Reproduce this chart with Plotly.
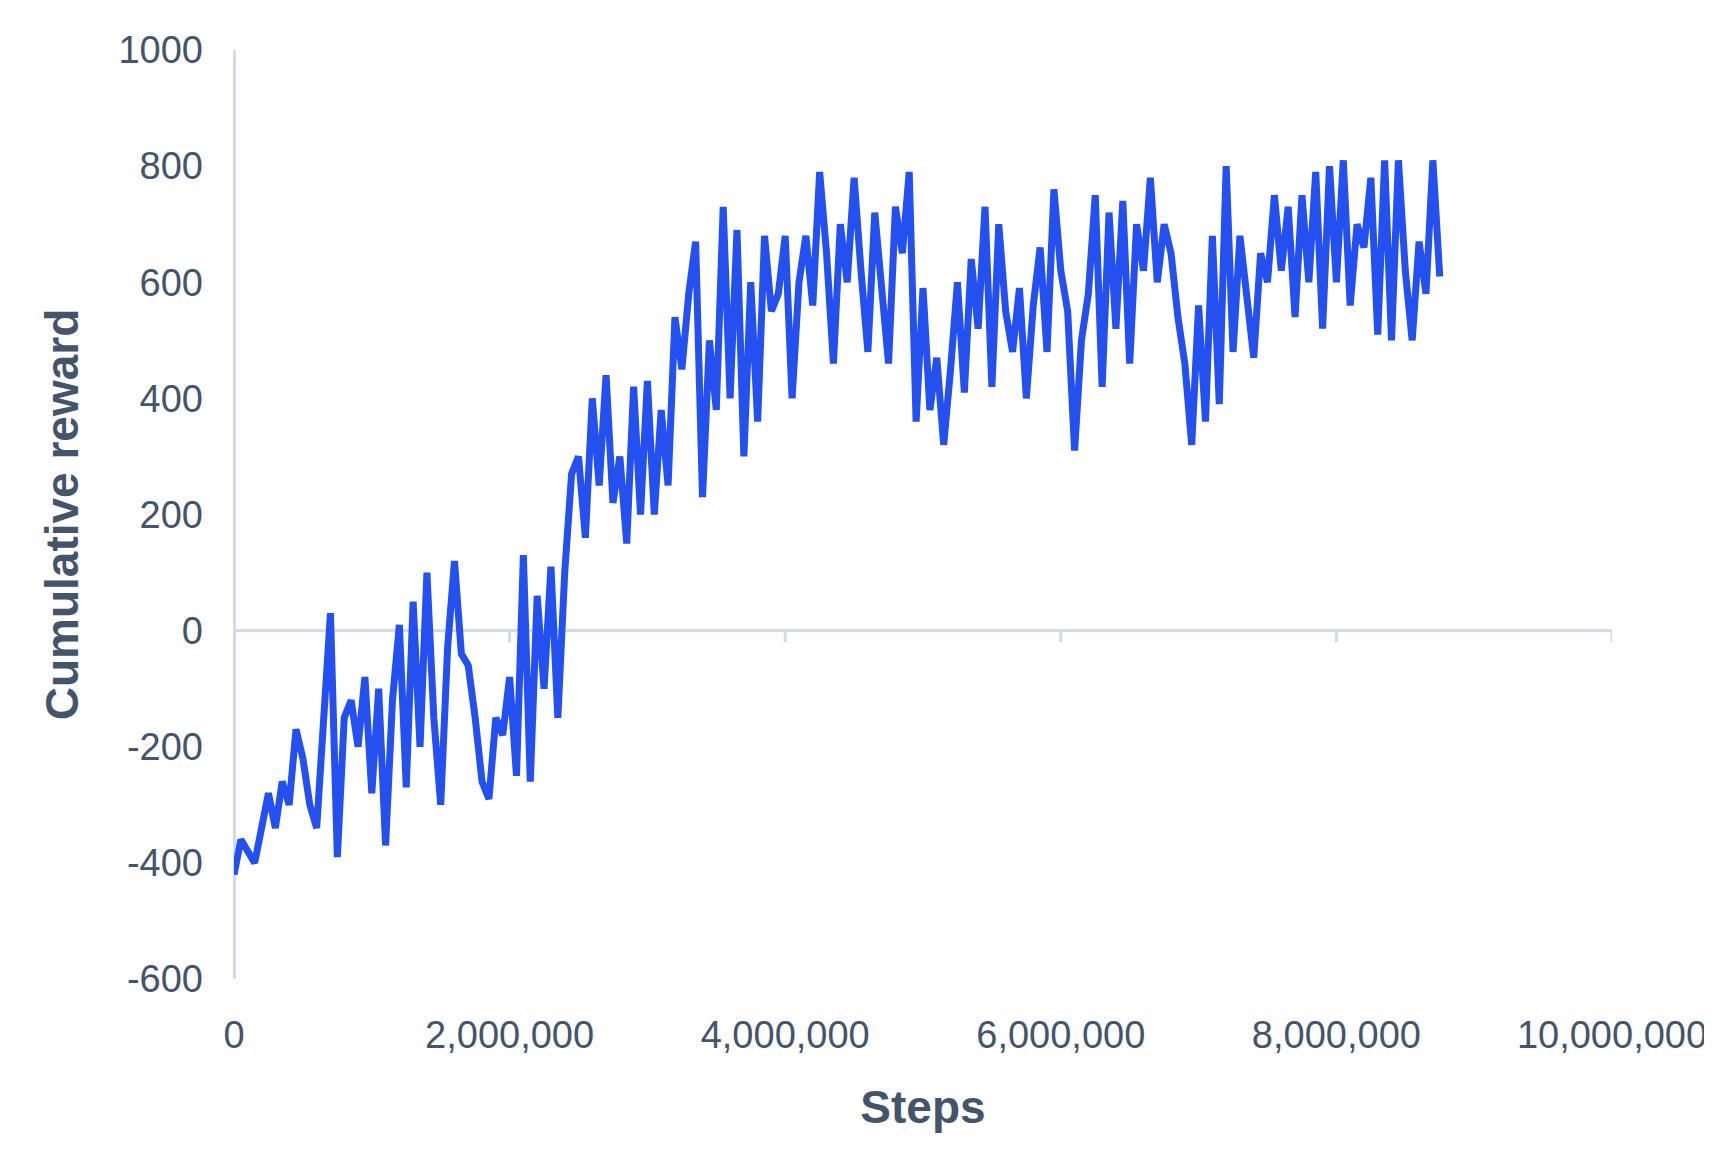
import plotly.graph_objects as go

# steps every 50,000 from 0 to 8,750,000
step_size = 50000
reward = [
    -420, -360, -380, -400, -340, -280, -340, -260, -300, -170, -220, -300, -340, -130, 30, -390, -150, -120, -200, -80,
    -280, -100, -370, -120, 10, -270, 50, -200, 100, -150, -300, -30, 120, -40, -60, -150, -260, -290, -150, -180,
    -80, -250, 130, -260, 60, -100, 110, -150, 100, 270, 300, 160, 400, 250, 440, 220, 300, 150, 420, 200,
    430, 200, 380, 250, 540, 450, 580, 670, 230, 500, 380, 730, 400, 690, 300, 600, 360, 680, 550, 580,
    680, 400, 600, 680, 560, 790, 650, 460, 700, 600, 780, 620, 480, 720, 600, 460, 730, 650, 790, 360,
    590, 380, 470, 320, 450, 600, 410, 640, 520, 730, 420, 700, 550, 480, 590, 400, 560, 660, 480, 760,
    620, 550, 310, 500, 580, 750, 420, 720, 520, 740, 460, 700, 620, 780, 600, 700, 650, 540, 460, 320,
    560, 360, 680, 390, 800, 480, 680, 560, 470, 650, 600, 750, 620, 730, 540, 750, 600, 790, 520, 800,
    600, 810, 560, 700, 660, 780, 510, 810, 500, 810, 620, 500, 670, 580, 810, 610,
]
steps = [i * step_size for i in range(len(reward))]

x_ticks = [0, 2000000, 4000000, 6000000, 8000000, 10000000]
x_labels = ["0", "2,000,000", "4,000,000", "6,000,000", "8,000,000", "10,000,000"]
y_ticks = [-600, -400, -200, 0, 200, 400, 600, 800, 1000]
y_labels = ["-600", "-400", "-200", "0", "200", "400", "600", "800", "1000"]

txt = "#44546a"
axcol = "#d3dbe6"
font = "Liberation Sans Narrow, Liberation Sans, sans-serif"

fig = go.Figure()
fig.add_trace(go.Scatter(x=steps, y=reward, mode="lines",
                         line=dict(color="#2450f0", width=7)))

# little tick marks hanging below the zero line
for t in x_ticks[1:]:
    fig.add_shape(type="line", x0=t, x1=t, y0=0, y1=-20,
                  line=dict(color=axcol, width=3), layer="below")

fig.update_layout(
    width=1712, height=1174,
    margin=dict(l=226, r=108, t=42, b=203),
    plot_bgcolor="white", paper_bgcolor="white",
    showlegend=False,
    font=dict(family=font, color=txt, size=38),
    xaxis=dict(range=[0, 10000000], tickvals=x_ticks, ticktext=x_labels,
               showgrid=False, zeroline=True, zerolinecolor=axcol, zerolinewidth=3,
               showline=False, ticks="", ticklabelstandoff=30,
               title=dict(text="<b>Steps</b>", font=dict(size=46, color=txt), standoff=35)),
    yaxis=dict(range=[-600, 1000], tickvals=y_ticks, ticktext=y_labels, showgrid=False,
               zeroline=True, zerolinecolor=axcol, zerolinewidth=3,
               showline=False, ticks="", ticklabelstandoff=30,
               title=dict(text="<b>Cumulative reward</b>", font=dict(size=46, color=txt), standoff=25)),
)

fig.write_html("out.html")
